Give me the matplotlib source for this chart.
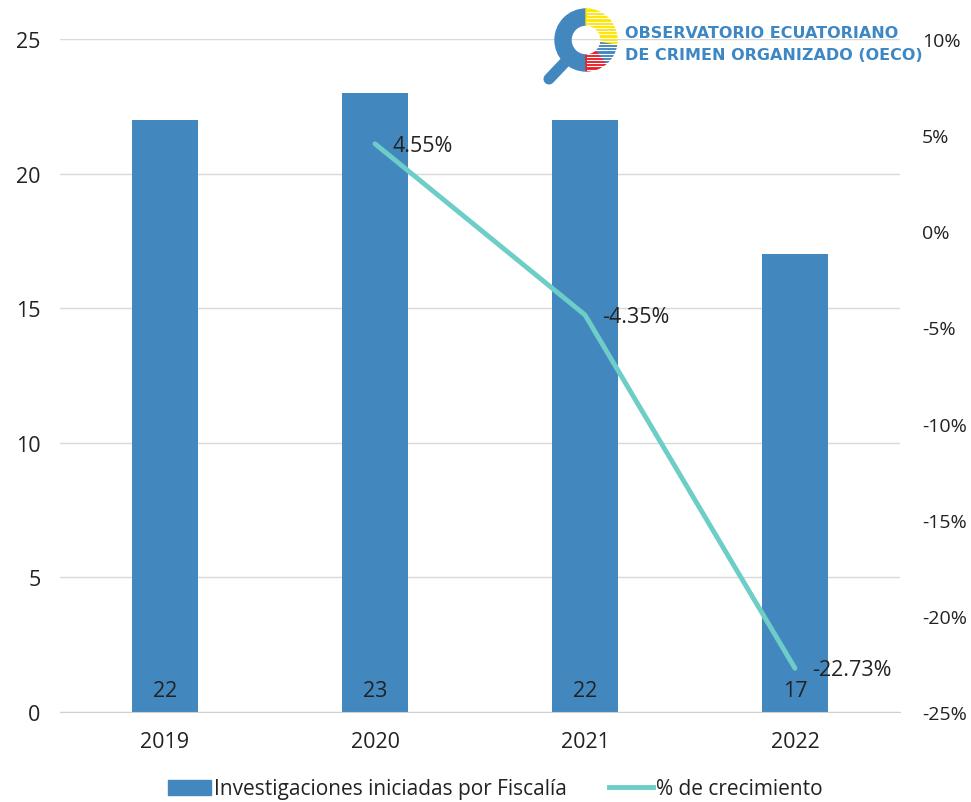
import matplotlib
matplotlib.use("Agg")
import matplotlib.pyplot as plt
from matplotlib.patches import Wedge, Circle, Rectangle
from matplotlib.lines import Line2D
from matplotlib.ticker import FuncFormatter
import numpy as np

years = ["2019", "2020", "2021", "2022"]
investigaciones = [22, 23, 22, 17]
crecimiento = [None, 4.55, -4.35, -22.73]
crecimiento_labels = ["", "4.55%", "-4.35%", "-22.73%"]

bar_color = "#4387BF"
line_color = "#6DCDC7"
text_color = "#222222"
font = ["Open Sans", "DejaVu Sans"]
plt.rcParams["font.family"] = font
fs = 15.5

W, H = 971, 803
fig = plt.figure(figsize=(W / 100, H / 100), dpi=100)
ax = fig.add_axes([60 / W, 1 - 713 / H, (900 - 60) / W, (713 - 40) / H])

x = np.arange(len(years))
ax.bar(x, investigaciones, width=0.31, color=bar_color, zorder=2)
ax.set_xlim(-0.5, len(years) - 0.5)
ax.set_ylim(0, 25)
ax.set_yticks([0, 5, 10, 15, 20, 25])
ax.set_xticks(x)
ax.set_xticklabels(years)
ax.grid(axis="y", color="#d9d9d9", linewidth=1, zorder=0)
for s in ["top", "right", "left"]:
    ax.spines[s].set_visible(False)
ax.spines["bottom"].set_color("#d0d0d0")
ax.tick_params(axis="both", length=0, labelsize=fs, colors=text_color)
ax.tick_params(axis="y", pad=14)
ax.tick_params(axis="x", pad=14)

for xi, v in zip(x, investigaciones):
    ax.text(xi, 0.8, str(v), ha="center", va="center", fontsize=fs, color=text_color, zorder=4)

ax2 = ax.twinx()
ax2.set_ylim(-25, 10)
ax2.set_yticks([10, 5, 0, -5, -10, -15, -20, -25])
ax2.yaxis.set_major_formatter(FuncFormatter(lambda v, p: f"{int(v)}%"))
for s in ["top", "right", "left", "bottom"]:
    ax2.spines[s].set_visible(False)
ax2.tick_params(axis="y", length=0, labelsize=14, colors=text_color, pad=16)

lx = [xi for xi, c in zip(x, crecimiento) if c is not None]
ly = [c for c in crecimiento if c is not None]
ax2.plot(lx, ly, color=line_color, linewidth=3.5, solid_capstyle="round", zorder=3)
for xi, c, lab in zip(x, crecimiento, crecimiento_labels):
    if c is None:
        continue
    ax2.annotate(lab, (xi, c), xytext=(12.5, -1), textcoords="offset points",
                 ha="left", va="center", fontsize=fs, color=text_color)

handles = [Rectangle((0, 0), 1, 1, color=bar_color),
           Line2D([0], [0], color=line_color, linewidth=3.5)]
fig.legend(handles, ["Investigaciones iniciadas por Fiscalía", "% de crecimiento"],
           loc="center", bbox_to_anchor=(495 / W, 1 - 790 / H), ncol=2, frameon=False,
           fontsize=15, handlelength=2.1, handletextpad=0.15, columnspacing=2.0,
           labelcolor=text_color, borderpad=0)

# Logo overlay
lax = fig.add_axes([0, 0, 1, 1], facecolor="none")
lax.set_xlim(0, W)
lax.set_ylim(H, 0)
lax.axis("off")
cx, cy, ro, ri = 586, 41, 31, 15
logo_blue = "#4387BF"
lax.plot([568, 549], [60, 80], color=logo_blue, linewidth=8, solid_capstyle="round", zorder=1)
lax.add_patch(Wedge((cx, cy), ro, 90, 270, width=ro - ri, color=logo_blue, zorder=2))
# right half segments (y axis inverted, so angles are mirrored)
lax.add_patch(Wedge((cx, cy), ro, -90, 10, width=ro - ri, color="#FFE600", zorder=2))
lax.add_patch(Wedge((cx, cy), ro, 10, 50, width=ro - ri, color=logo_blue, zorder=2))
lax.add_patch(Wedge((cx, cy), ro, 50, 90, width=ro - ri, color="#E8202A", zorder=2))
for yy in np.arange(cy - ro + 3, cy + ro, 3.2):
    lax.plot([cx + 0.5, cx + ro], [yy, yy], color="white", linewidth=0.8, zorder=3)
lax.text(625, 33, "OBSERVATORIO ECUATORIANO", ha="left", va="center",
         fontsize=11.5, fontweight="bold", color="#3D87C4", family=["DejaVu Sans"])
lax.text(625, 55, "DE CRIMEN ORGANIZADO (OECO)", ha="left", va="center",
         fontsize=11.5, fontweight="bold", color="#3D87C4", family=["DejaVu Sans"])

fig.savefig("out.png", dpi=100)
